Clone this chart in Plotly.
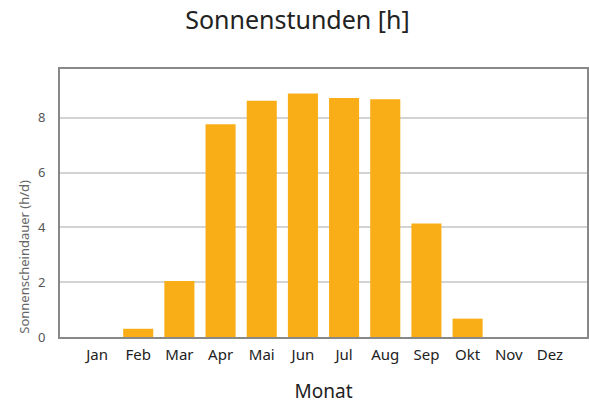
import plotly.graph_objects as go

months = ["Jan", "Feb", "Mar", "Apr", "Mai", "Jun", "Jul", "Aug", "Sep", "Okt", "Nov", "Dez"]
sun_hours = [0.0, 0.30, 2.04, 7.76, 8.62, 8.89, 8.72, 8.68, 4.14, 0.67, 0.0, 0.0]
y_ticks = [0, 2, 4, 6, 8]

fig = go.Figure(go.Bar(
    x=months, y=sun_hours,
    marker=dict(color="#F9AD16", line=dict(width=0)),
    width=0.73,
))

fig.update_layout(
    width=589, height=406,
    margin=dict(l=60, r=2, t=69, b=69),
    paper_bgcolor="white", plot_bgcolor="white",
    title=dict(text="Sonnenstunden [h]", x=0.505, xanchor="center", y=0.951, yanchor="middle",
               font=dict(family="Noto Sans", size=25, color="#222"), automargin=False),
    showlegend=False,
    annotations=[dict(
        text="Sonnenscheindauer (h/d)", textangle=-90, showarrow=False,
        xref="paper", yref="paper", x=-0.07, y=0.30, xanchor="center", yanchor="middle",
        font=dict(family="Noto Sans", size=13, color="#666"),
    )],
)
fig.update_xaxes(
    range=[-0.9, 11.9], showgrid=False, ticks="", automargin=False,
    tickfont=dict(family="Noto Sans", size=15, color="#222"), ticklabelstandoff=3,
    title=dict(text="Monat", font=dict(family="Noto Sans", size=19, color="#222"), standoff=22),
    showline=True, linecolor="#888", linewidth=2, mirror=True,
)
fig.update_yaxes(
    range=[0, 9.78], tickvals=y_ticks, showgrid=True, gridcolor="#D3D3D3", gridwidth=1.5,
    tickfont=dict(family="Noto Sans", size=13, color="#555"), ticks="", ticklabelstandoff=10,
    automargin=False,
    showline=True, linecolor="#888", linewidth=2, mirror=True, zeroline=False,
)

fig.write_html("out.html", config={"displayModeBar": False},
               post_script="document.body.style.margin='0';document.body.style.overflow='hidden';")
